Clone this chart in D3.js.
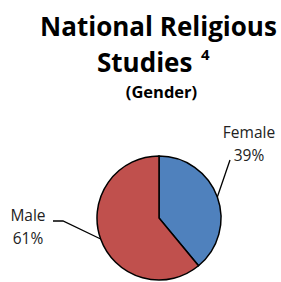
<!DOCTYPE html>
<html><head><meta charset="utf-8">
<script src="https://cdn.jsdelivr.net/npm/d3@7"></script>
<style>body{margin:0;background:#fff}svg{display:block}</style>
</head><body>
<svg id="c" width="281" height="282"></svg>
<script>
const categories = ["Female", "Male"];
const values = [39, 61];
const colors = ["#4F81BD", "#C0504D"];
const titleLines = ["National Religious", "Studies"];
const subtitle = "(Gender)";

const svg = d3.select("#c");
const font = "'Open Sans', sans-serif";
const cx = 159, cy = 218, r = 62;

svg.append("text").attr("x", 158.5).attr("y", 36).attr("text-anchor", "middle")
  .attr("font-family", font).attr("font-weight", "bold").attr("font-size", 26).text(titleLines[0]);
const t2 = svg.append("text").attr("x", 97).attr("y", 72).attr("text-anchor", "start")
  .attr("font-family", font).attr("font-weight", "bold").attr("font-size", 26);
t2.append("tspan").text(titleLines[1]);
t2.append("tspan").attr("x", 201).attr("font-size", 15).attr("dy", -12).text("4");
svg.append("text").attr("x", 161.5).attr("y", 98).attr("text-anchor", "middle")
  .attr("font-family", font).attr("font-weight", "bold").attr("font-size", 16.5).text(subtitle);

const pie = d3.pie().sort(null).value(d => d)(values);
const arc = d3.arc().innerRadius(0).outerRadius(r);
const g = svg.append("g").attr("transform", `translate(${cx},${cy})`);
g.selectAll("path").data(pie).join("path")
  .attr("d", arc).attr("fill", (d, i) => colors[i])
  .attr("stroke", "#000").attr("stroke-width", 1.5);

const pt = (ang, rad) => [cx + rad * Math.sin(ang), cy - rad * Math.cos(ang)];
const mid = d => (d.startAngle + d.endAngle) / 2;
svg.append("polyline").attr("points", [pt(mid(pie[0]), r), [230, 160]].map(p => p.join(",")).join(" "))
  .attr("fill", "none").attr("stroke", "#000").attr("stroke-width", 1.3);
svg.append("polyline").attr("points", [pt(mid(pie[1]), r), [63, 221], [53, 221]].map(p => p.join(",")).join(" "))
  .attr("fill", "none").attr("stroke", "#000").attr("stroke-width", 1.3);

const lab = (x, y, lines) => {
  lines.forEach((s, i) => svg.append("text").attr("x", x).attr("y", y + i * 23)
    .attr("text-anchor", "middle").attr("font-family", font).attr("font-size", 15.5)
    .attr("fill", "#222").text(s));
};
lab(249, 138, [categories[0], values[0] + "%"]);
lab(28, 221, [categories[1], values[1] + "%"]);
</script>
</body></html>
